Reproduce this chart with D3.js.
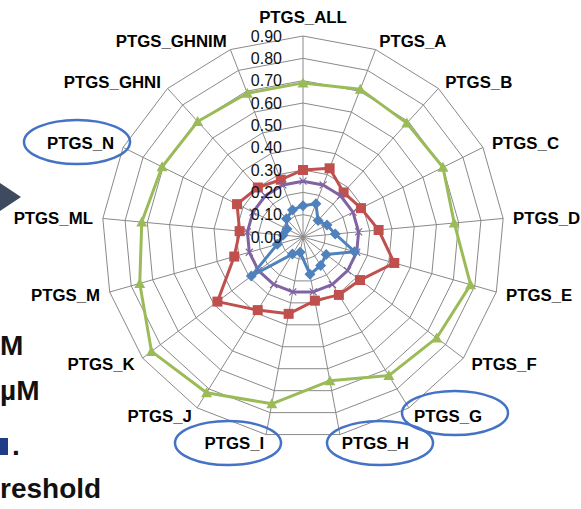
<!DOCTYPE html>
<html>
<head>
<meta charset="utf-8">
<script src="https://cdn.jsdelivr.net/npm/d3@7"></script>
<style>
  html, body { margin: 0; padding: 0; background: #fff; }
  svg { display: block; }
</style>
</head>
<body>
<svg id="chart" width="581" height="509"></svg>
<script>
// Axes of the radar, clockwise from the top
const axes = ["PTGS_ALL", "PTGS_A", "PTGS_B", "PTGS_C", "PTGS_D", "PTGS_E", "PTGS_F",
  "PTGS_G", "PTGS_H", "PTGS_I", "PTGS_J", "PTGS_K", "PTGS_M", "PTGS_ML", "PTGS_N",
  "PTGS_GHNI", "PTGS_GHNIM"];

// Series values, one per axis
const greenSeries  = [0.69, 0.71, 0.69, 0.70, 0.68, 0.78, 0.75, 0.73, 0.655, 0.76, 0.82, 0.85, 0.76, 0.725, 0.705, 0.70, 0.69];
const redSeries    = [0.30, 0.33, 0.27, 0.29, 0.34, 0.425, 0.32, 0.305, 0.29, 0.35, 0.385, 0.48, 0.32, 0.285, 0.33, 0.30, 0.275];
const purpleSeries = [0.25, 0.25, 0.25, 0.25, 0.25, 0.25, 0.25, 0.25, 0.25, 0.25, 0.25, 0.25, 0.25, 0.25, 0.25, 0.25, 0.25];
const blueSeries   = [0.14, 0.16, 0.10, 0.12, 0.145, 0.24, 0.13, 0.15, 0.17, 0.07, 0.09, 0.29, 0.12, 0.09, 0.08, 0.11, 0.13];

// Radial tick values
const tickValues = [0.00, 0.10, 0.20, 0.30, 0.40, 0.50, 0.60, 0.70, 0.80, 0.90];

// Highlighted axis labels
const circledAxes = ["PTGS_N", "PTGS_G", "PTGS_H", "PTGS_I"];

// Text fragments along the left edge
const sideTexts = ["M", "µM", ".", "reshold"];

const svg = d3.select("#chart");
const cx = 303, cy = 237;
const rMax = 201;
const r = d3.scaleLinear().domain([0, 0.9]).range([0, rMax]);
const angle = d3.scalePoint().domain(axes).range([0, 2 * Math.PI * (axes.length - 1) / axes.length]);

const pt = (axis, v) => {
  const a = angle(axis);
  return [cx + r(v) * Math.sin(a), cy - r(v) * Math.cos(a)];
};

const g = svg.append("g");

// Grid: rings and spokes
const gridColor = "#8a8a8a";
tickValues.filter(t => t > 0).forEach(t => {
  g.append("polygon")
    .attr("points", axes.map(a => pt(a, t).join(",")).join(" "))
    .attr("fill", "none")
    .attr("stroke", gridColor)
    .attr("stroke-width", 1);
});
axes.forEach(a => {
  const [x, y] = pt(a, 0.9);
  g.append("line")
    .attr("x1", cx).attr("y1", cy).attr("x2", x).attr("y2", y)
    .attr("stroke", gridColor).attr("stroke-width", 1);
});

// Series
const series = [
  { values: greenSeries,  color: "#9bbb59", marker: "triangle" },
  { values: redSeries,    color: "#c0504d", marker: "square" },
  { values: purpleSeries, color: "#8064a2", marker: "cross" },
  { values: blueSeries,   color: "#4f81bd", marker: "diamond" }
];

const line = d3.line().curve(d3.curveLinearClosed);

series.forEach(s => {
  const pts = axes.map((a, i) => pt(a, s.values[i]));
  g.append("path")
    .attr("d", line(pts))
    .attr("fill", "none")
    .attr("stroke", s.color)
    .attr("stroke-width", 3)
    .attr("stroke-linejoin", "round");

  pts.forEach(([x, y]) => {
    if (s.marker === "square") {
      g.append("rect").attr("x", x - 5).attr("y", y - 5).attr("width", 10).attr("height", 10)
        .attr("fill", s.color);
    } else if (s.marker === "triangle") {
      g.append("path").attr("transform", `translate(${x},${y})`)
        .attr("d", "M0,-5.5L5.5,4.5L-5.5,4.5Z").attr("fill", s.color);
    } else if (s.marker === "diamond") {
      g.append("path").attr("transform", `translate(${x},${y})`)
        .attr("d", "M0,-5.5L5.5,0L0,5.5L-5.5,0Z").attr("fill", s.color);
    } else {
      g.append("path").attr("transform", `translate(${x},${y})`)
        .attr("d", "M-3.5,-3.5L3.5,3.5M3.5,-3.5L-3.5,3.5")
        .attr("stroke", s.color).attr("stroke-width", 1.2).attr("fill", "none");
    }
  });
});

// Radial tick labels
g.selectAll("text.tick")
  .data(tickValues)
  .join("text")
  .attr("class", "tick")
  .attr("x", 282)
  .attr("y", d => cy - r(d))
  .attr("dy", "0.36em")
  .attr("text-anchor", "end")
  .attr("font-family", "Liberation Sans, Arial, sans-serif")
  .attr("font-size", 16)
  .attr("fill", "#111")
  .text(d => d3.format(".2f")(d));

// Axis labels
axes.forEach(a => {
  const th = angle(a);
  const s = Math.sin(th), c = Math.cos(th);
  const [vx, vy] = pt(a, 0.9);
  let x, y, anchor;
  if (Math.abs(s) < 0.05) {
    x = vx; y = vy - 19; anchor = "middle";
  } else {
    x = vx + 10 * s; y = vy - 9 * c; anchor = s > 0 ? "start" : "end";
  }
  svg.append("text")
    .attr("x", x).attr("y", y).attr("dy", "0.36em")
    .attr("text-anchor", anchor)
    .attr("font-family", "Liberation Sans, Arial, sans-serif")
    .attr("font-weight", "bold")
    .attr("font-size", 16.8)
    .attr("fill", "#000")
    .text(a);
});

// Ellipses around highlighted axis labels
const ellipses = {
  "PTGS_N": [77, 142], "PTGS_I": [228, 443], "PTGS_G": [455, 413], "PTGS_H": [380, 443]
};
circledAxes.forEach(a => {
  const [ex, ey] = ellipses[a];
  svg.append("ellipse")
    .attr("cx", ex).attr("cy", ey).attr("rx", 53).attr("ry", 22)
    .attr("fill", "none").attr("stroke", "#4472c4").attr("stroke-width", 2.5);
});

// Arrow and text fragments at the left edge
svg.append("path").attr("d", "M0,183L21,197L0,211Z").attr("fill", "#3e4b5e");
svg.append("rect").attr("x", 0).attr("y", 438).attr("width", 8).attr("height", 17).attr("fill", "#1f3c88");

const sideX = [-3, 0, 12, 0];
const sideY = [355, 400, 455, 498];
svg.append("g")
  .attr("font-family", "Liberation Sans, Arial, sans-serif")
  .attr("font-weight", "bold")
  .attr("font-size", 28)
  .attr("fill", "#111")
  .selectAll("text")
  .data(sideTexts)
  .join("text")
  .attr("x", (d, i) => Math.max(0, sideX[i]))
  .attr("y", (d, i) => sideY[i])
  .text(d => d);
</script>
</body>
</html>
